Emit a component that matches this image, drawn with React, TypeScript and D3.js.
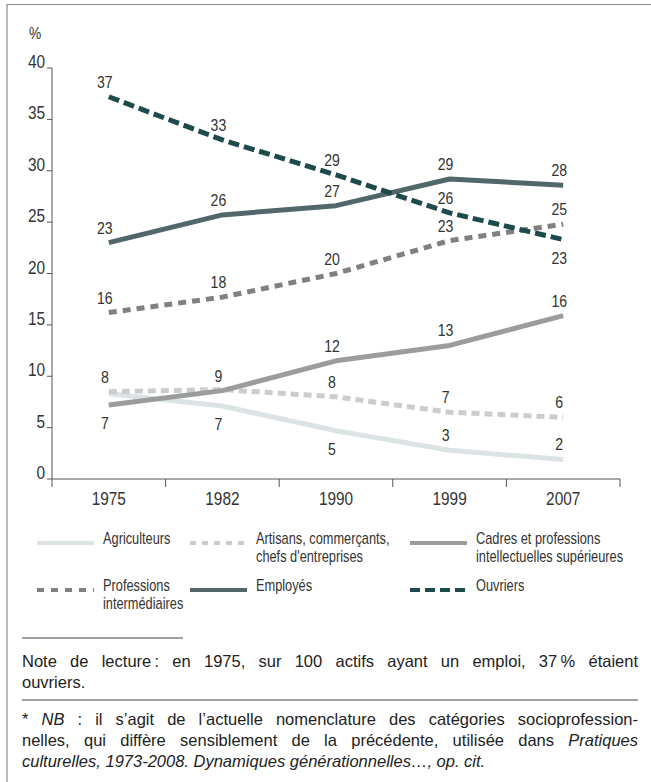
import { useLayoutEffect, useRef } from "react";
import type { ReactNode } from "react";
import { scaleBand, scaleLinear, line, curveLinear } from "d3";

const years = ["1975", "1982", "1990", "1999", "2007"];
const yTicks = [0, 5, 10, 15, 20, 25, 30, 35, 40];

const agriculteurs = [8.3, 7.1, 4.7, 2.8, 1.9];
const artisans = [8.5, 8.7, 8.0, 6.5, 6.0];
const cadres = [7.2, 8.6, 11.5, 13.0, 15.9];
const professionsIntermediaires = [16.2, 17.7, 20.0, 23.2, 24.8];
const employes = [23.0, 25.7, 26.6, 29.2, 28.6];
const ouvriers = [37.2, 33.0, 29.6, 25.9, 23.3];

const agriculteursLabels = [null, "7", "5", "3", "2"];
const artisansLabels = ["8", null, "8", "7", "6"];
const cadresLabels = ["7", "9", "12", "13", "16"];
const professionsLabels = ["16", "18", "20", "23", "25"];
const employesLabels = ["23", "26", "27", "29", "28"];
const ouvriersLabels = ["37", "33", "29", "26", "23"];

const noteLines = [
  "Note de lecture\u2009: en 1975, sur 100 actifs ayant un emploi, 37\u2009% étaient",
  "ouvriers.",
];

const SANS = "'Liberation Sans', Arial, Helvetica, sans-serif";
const TXT = "#333";

type Series = {
  name: string[];
  values: number[];
  labels: (string | null)[];
  below: number[]; // indices whose label sits under the line
  color: string;
  dash?: string;
  legendDash?: string;
  legendX: number;
  legendRow: number;
};

const series: Series[] = [
  { name: ["Agriculteurs"], values: agriculteurs, labels: agriculteursLabels, below: [1, 2], color: "#dde3e5", legendX: 37, legendRow: 0 },
  { name: ["Artisans, commerçants,", "chefs d'entreprises"], values: artisans, labels: artisansLabels, below: [], color: "#cccccc", dash: "8 5", legendDash: "6 6", legendX: 190, legendRow: 0 },
  { name: ["Cadres et professions", "intellectuelles supérieures"], values: cadres, labels: cadresLabels, below: [0], color: "#9a9c9d", legendX: 410, legendRow: 0 },
  { name: ["Professions", "intermédiaires"], values: professionsIntermediaires, labels: professionsLabels, below: [], color: "#808080", dash: "8 6", legendDash: "7 7", legendX: 37, legendRow: 1 },
  { name: ["Employés"], values: employes, labels: employesLabels, below: [], color: "#526769", legendX: 190, legendRow: 1 },
  { name: ["Ouvriers"], values: ouvriers, labels: ouvriersLabels, below: [4], color: "#1d4b4c", dash: "11 5", legendDash: "10 5", legendX: 410, legendRow: 1 },
];

// condensed text: regular sans squeezed horizontally
function CText({ x, y, size, sx = 0.86, anchor = "start", children }: { x: number; y: number; size: number; sx?: number; anchor?: "start" | "middle" | "end"; children: ReactNode }) {
  return (
    <text transform={`translate(${x},${y}) scale(${sx},1)`} textAnchor={anchor} fontFamily={SANS} fontSize={size} fill={TXT}>
      {children}
    </text>
  );
}

function Justified({ x, y, width, children, justify }: { x: number; y: number; width: number; children: ReactNode; justify: boolean }) {
  const ref = useRef<SVGTextElement>(null);
  useLayoutEffect(() => {
    const el = ref.current;
    if (!el || !justify) return;
    el.style.wordSpacing = "0px";
    const natural = el.getComputedTextLength();
    const spaces = (el.textContent || "").split(" ").length - 1;
    if (spaces > 0) el.style.wordSpacing = `${(width - natural) / spaces}px`;
  }, [width, justify]);
  return (
    <text ref={ref} x={x} y={y} fontFamily={SANS} fontSize={16.5} fill="#222">
      {children}
    </text>
  );
}

export default function App() {
  const W = 651;
  const H = 782;
  const left = 52;
  const right = 620;
  const top = 68;
  const bottom = 479;

  const x = scaleBand<string>().domain(years).range([left, right]).padding(0);
  const y = scaleLinear().domain([0, 40]).range([bottom, top]);
  const cx = (yr: string) => (x(yr) ?? 0) + x.bandwidth() / 2;

  const lineGen = line<number>()
    .x((_, i) => cx(years[i]))
    .y((d) => y(d))
    .curve(curveLinear);

  const boundaries = [...years.map((yr) => x(yr) ?? 0), right];

  return (
    <svg width={W} height={H} style={{ position: "absolute", left: 0, top: 0, background: "#fff" }}>
      {/* frame */}
      <line x1={7} x2={W} y1={4.5} y2={4.5} stroke="#8a8a8a" strokeWidth={1.2} />
      <line x1={7} x2={7} y1={4} y2={H} stroke="#8a8a8a" strokeWidth={1.2} />

      {/* y axis */}
      <CText x={35} y={39} size={16} anchor="middle">%</CText>
      <line x1={left} x2={left} y1={top} y2={bottom} stroke="#555" />
      {yTicks.map((t) => (
        <g key={t}>
          <line x1={left - 5} x2={left} y1={y(t)} y2={y(t)} stroke="#555" />
          <CText x={left - 7} y={y(t)} size={17.5} sx={0.88} anchor="end">{t}</CText>
        </g>
      ))}

      {/* x axis */}
      <line x1={left} x2={right} y1={bottom} y2={bottom} stroke="#555" />
      {boundaries.map((b, i) => (
        <line key={i} x1={b} x2={b} y1={bottom} y2={bottom + 8} stroke="#555" />
      ))}
      {years.map((yr) => (
        <CText key={yr} x={cx(yr)} y={505} size={17.5} sx={0.88} anchor="middle">{yr}</CText>
      ))}

      {/* lines */}
      {series.map((s, i) => (
        <path key={i} d={lineGen(s.values) ?? ""} fill="none" stroke={s.color} strokeWidth={5} strokeDasharray={s.dash} strokeLinejoin="round" />
      ))}

      {/* value labels */}
      {series.map((s, i) =>
        s.labels.map((lab, j) =>
          lab === null ? null : (
            <CText
              key={`${i}-${j}`}
              x={cx(years[j]) - 4}
              y={y(s.values[j]) + (s.below.includes(j) ? 24 : -9)}
              size={16}
              sx={0.88}
              anchor="middle"
            >
              {lab}
            </CText>
          )
        )
      )}

      {/* legend */}
      {series.map((s, i) => {
        const ly = s.legendRow === 0 ? 543 : 590;
        return (
          <g key={i}>
            <line x1={s.legendX} x2={s.legendX + 57} y1={ly} y2={ly} stroke={s.color} strokeWidth={4} strokeDasharray={s.legendDash} />
            {s.name.map((n, k) => (
              <CText key={k} x={s.legendX + 66} y={ly + 1 + k * 18} size={16} sx={0.8}>{n}</CText>
            ))}
          </g>
        );
      })}

      {/* notes */}
      <line x1={22} x2={183} y1={638} y2={638} stroke="#444" />
      <Justified x={22} y={667} width={616} justify>{noteLines[0]}</Justified>
      <Justified x={22} y={688} width={616} justify={false}>{noteLines[1]}</Justified>
      <line x1={22} x2={638} y1={700} y2={700} stroke="#444" />
      <Justified x={22} y={725} width={616} justify>
        * <tspan fontStyle="italic">NB</tspan> : il s’agit de l’actuelle nomenclature des catégories socioprofession-
      </Justified>
      <Justified x={22} y={746} width={616} justify>
        nelles, qui diffère sensiblement de la précédente, utilisée dans <tspan fontStyle="italic">Pratiques</tspan>
      </Justified>
      <text x={22} y={767} fontFamily={SANS} fontSize={16.5} fill="#222" fontStyle="italic">
        culturelles, 1973-2008. Dynamiques générationnelles…, op. cit.
      </text>
    </svg>
  );
}
